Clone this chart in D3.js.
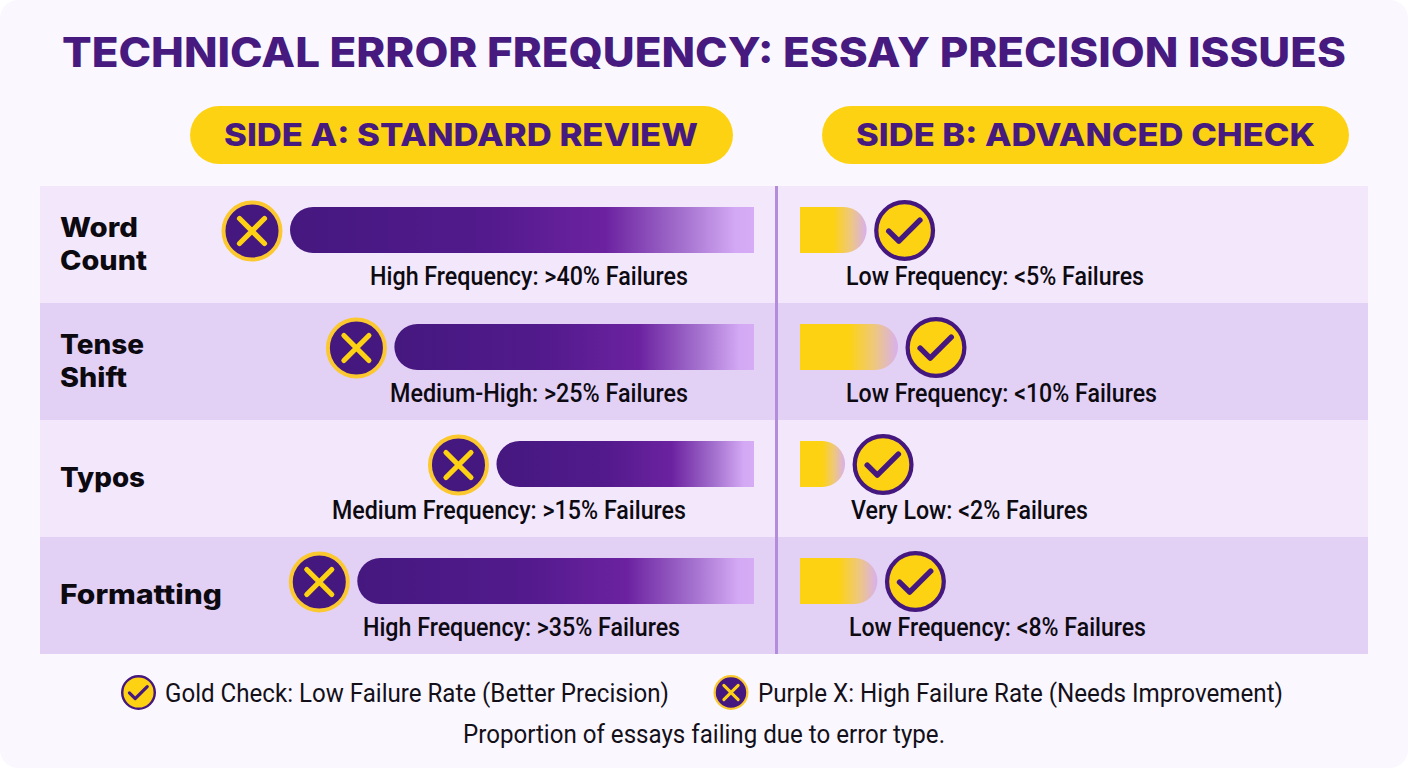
<!DOCTYPE html>
<html><head><meta charset="utf-8">
<script src="https://cdn.jsdelivr.net/npm/d3@7"></script>
<style>html,body{margin:0;padding:0;background:#fff;overflow:hidden}svg{display:block}</style>
</head><body><svg id="c" width="1408" height="768"></svg>
<script>
// ---- data ----
const categories = [["Word","Count"],["Tense","Shift"],["Typos"],["Formatting"]];
const sideAValues = [40, 31, 22.2, 34.2];   // drawn bar length, in % units of the left panel
const sideBValues = [6.8, 10, 4.6, 7.9];    // drawn bar length, in % units of the right panel
const sideALabels = ["High Frequency: >40% Failures","Medium-High: >25% Failures","Medium Frequency: >15% Failures","High Frequency: >35% Failures"];
const sideBLabels = ["Low Frequency: <5% Failures","Low Frequency: <10% Failures","Very Low: <2% Failures","Low Frequency: <8% Failures"];
const titleText = "TECHNICAL ERROR FREQUENCY: ESSAY PRECISION ISSUES";
const sideHeaders = ["SIDE A: STANDARD REVIEW","SIDE B: ADVANCED CHECK"];
const legendLabels = ["Gold Check: Low Failure Rate (Better Precision)","Purple X: High Failure Rate (Needs Improvement)"];
const footnote = "Proportion of essays failing due to error type.";

// ---- layout ----
const PURPLE="#45187f", GOLD="#fdd213", HEAD="#471a80";
const HEAD_FONT="Inter, 'Open Sans', sans-serif", BODY_FONT="Roboto, sans-serif";
const labelSpanA=[[370,688],[390,688],[332,686],[363,680]];
const labelSpanB=[[846,1144],[846,1157],[851,1088],[849,1146]];
const categorySpan=[[138,147],[144,127],[145],[222]];

const svg=d3.select("#c");
const defs=svg.append("defs");
function grad(id,stops){
  const g=defs.append("linearGradient").attr("id",id).attr("x1","0").attr("x2","1").attr("y1","0").attr("y2","0");
  stops.forEach(s=>g.append("stop").attr("offset",s[0]).attr("stop-color",s[1]));
}
grad("gA",[[0,"#45187f"],[0.42,"#521a8c"],[0.68,"#6c22a0"],[0.85,"#a572cf"],[0.96,"#d3a8f4"],[1,"#d6acf6"]]);
grad("gB",[[0,"#fdd213"],[0.5,"#fdd213"],[0.75,"#efc87a"],[1,"#d8b0ee"]]);

svg.append("rect").attr("width",1408).attr("height",768).attr("rx",18).attr("fill","#faf8fe");

function fitText(sel,x0,x1){
  sel.attr("x",x0).attr("textLength",x1-x0).attr("lengthAdjust","spacingAndGlyphs");
  return sel;
}
function txt(s,y,size,weight,font,fill){
  return svg.append("text").text(s).attr("y",y).attr("font-size",size).attr("font-weight",weight)
    .attr("font-family",font).attr("fill",fill);
}
// title
fitText(txt(titleText,67,41,800,HEAD_FONT,HEAD),62,1346);

// header pills
const pills=[[190,733,[224,698]],[822,1349,[856,1315]]];
pills.forEach((p,i)=>{
  svg.append("rect").attr("x",p[0]).attr("y",106).attr("width",p[1]-p[0]).attr("height",58).attr("rx",29).attr("fill",GOLD);
  fitText(txt(sideHeaders[i],146,31,800,HEAD_FONT,HEAD),p[2][0],p[2][1]);
});

// rows
const y=d3.scaleBand().domain(d3.range(categories.length)).range([186,654]);
svg.selectAll("rect.row").data(categories).join("rect").attr("class","row")
  .attr("x",40).attr("width",1328).attr("y",(d,i)=>y(i)).attr("height",y.bandwidth())
  .attr("fill",(d,i)=>i%2?"#e3d0f5":"#f3e8fb");
svg.append("rect").attr("x",775).attr("y",186).attr("width",3).attr("height",468).attr("fill","#b48cdc");

// scales
const xA=d3.scaleLinear().domain([0,40]).range([754,290]);
const xB=d3.scaleLinear().domain([0,10]).range([800,898]);
const barH=46, barOff=21;

function barA(x0,x1,t,h){const r=h/2,p=d3.path();p.moveTo(x1,t);p.lineTo(x0+r,t);p.arc(x0+r,t+r,r,-Math.PI/2,Math.PI/2,true);p.lineTo(x1,t+h);p.closePath();return p.toString();}
function barB(x0,x1,t,h){const r=h/2,p=d3.path();p.moveTo(x0,t);p.lineTo(x1-r,t);p.arc(x1-r,t+r,r,-Math.PI/2,Math.PI/2,false);p.lineTo(x0,t+h);p.closePath();return p.toString();}

function xIcon(g,cx,cy,R){
  g.append("circle").attr("cx",cx).attr("cy",cy).attr("r",R*0.935).attr("fill",PURPLE).attr("stroke","#fbc92f").attr("stroke-width",R*0.13);
  const a=R*0.41;
  g.append("path").attr("d",`M${cx-a},${cy-a}L${cx+a},${cy+a}M${cx+a},${cy-a}L${cx-a},${cy+a}`)
   .attr("stroke",GOLD).attr("stroke-width",R*0.17).attr("stroke-linecap","round").attr("fill","none");
}
function checkIcon(g,cx,cy,R){
  g.append("circle").attr("cx",cx).attr("cy",cy).attr("r",R*0.93).attr("fill",GOLD).attr("stroke",PURPLE).attr("stroke-width",R*0.14);
  g.append("path").attr("d",`M${cx-R*0.52},${cy+R*0.02}L${cx-R*0.19},${cy+R*0.35}L${cx+R*0.5},${cy-R*0.34}`)
   .attr("stroke",PURPLE).attr("stroke-width",R*0.18).attr("stroke-linecap","round").attr("stroke-linejoin","round").attr("fill","none");
}

categories.forEach((lines,i)=>{
  const top=y(i), cy=top+barOff+barH/2;
  svg.append("path").attr("d",barA(xA(sideAValues[i]),xA(0),top+barOff,barH)).attr("fill","url(#gA)");
  svg.append("path").attr("d",barB(xB(0),xB(sideBValues[i]),top+barOff,barH)).attr("fill","url(#gB)");
  xIcon(svg,xA(sideAValues[i])-38,cy+1,30.5);
  checkIcon(svg,xB(sideBValues[i])+38,cy+0.5,30.5);
  // category label
  const base=lines.length===2?[top+51,top+84]:[top+67];
  lines.forEach((l,j)=>fitText(txt(l,base[j],27,800,HEAD_FONT,"#0c0a10"),60,categorySpan[i][j]));
  fitText(txt(sideALabels[i],top+99,26,500,BODY_FONT,"#0d0a12"),labelSpanA[i][0],labelSpanA[i][1]);
  fitText(txt(sideBLabels[i],top+99,26,500,BODY_FONT,"#0d0a12"),labelSpanB[i][0],labelSpanB[i][1]);
});

// legend
checkIcon(svg,138.5,692.5,17.5);
fitText(txt(legendLabels[0],702,25,400,BODY_FONT,"#14101a"),165,669);
xIcon(svg,731,692.5,17.5);
fitText(txt(legendLabels[1],702,25,400,BODY_FONT,"#14101a"),758,1283);
fitText(txt(footnote,743,25,400,BODY_FONT,"#14101a"),463,945);
</script></body></html>
